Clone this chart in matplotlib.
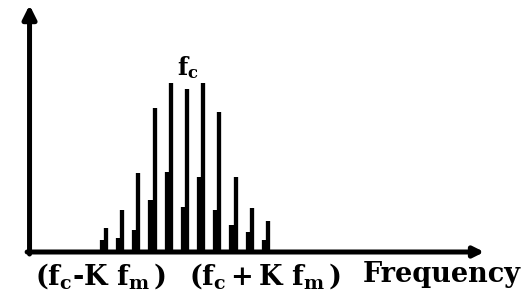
import matplotlib
matplotlib.use('Agg')
import matplotlib.pyplot as plt

plt.rcParams['mathtext.fontset'] = 'custom'
plt.rcParams['mathtext.rm'] = 'DejaVu Serif:bold'
plt.rcParams['mathtext.it'] = 'DejaVu Serif:bold'
plt.rcParams['mathtext.bf'] = 'DejaVu Serif:bold'

# sideband index (n * fm away from fc) and line amplitudes
harmonic = [-5, -4, -3, -2, -1, 0, 1, 2, 3, 4, 5]
main_amp = [24, 42, 79, 144, 169, 163, 169, 140, 75, 44, 31]
# shorter shoulder lines sitting just left of each main line
side_amp = [12, 14, 22, 52, 80, 45, 75, 42, 27, 20, 12]

label_left = r'(f$_c$-K f$_m\,$)'
label_right = r'(f$_c\,$+$\,$K f$_m\,$)'
label_axis = 'Frequency'
label_fc = 'f$_c$'

fig = plt.figure(figsize=(5.25, 2.93), dpi=100)
ax = fig.add_axes([0, 0, 1, 1])
ax.set_xlim(-187 / 16.2, (525 - 187) / 16.2)
ax.set_ylim(-41, 252)
ax.axis('off')

# spectral lines
side_x = [h - 0.2 for h in harmonic]
ax.vlines(side_x, 0, side_amp, color='black', lw=4.5)
ax.vlines(harmonic, 0, main_amp, color='black', lw=3.1)

# axes with arrows
x0 = -9.72
ax.annotate('', xy=(x0, 247), xytext=(x0, -2),
            arrowprops=dict(arrowstyle='-|>', lw=3.6, color='black',
                            mutation_scale=20, shrinkA=0, shrinkB=0))
ax.annotate('', xy=(18.35, 0), xytext=(x0 - 0.15, 0),
            arrowprops=dict(arrowstyle='-|>', lw=3.6, color='black',
                            mutation_scale=15, shrinkA=0, shrinkB=0))

font = dict(family='DejaVu Serif', weight='bold', size=19.5, color='black')
ax.text(-9.4, -9, label_left, ha='left', va='top', **font)
ax.text(0.15, -9, label_right, ha='left', va='top', **font)
ax.text(10.86, -9, label_axis, ha='left', va='top', **font)
ax.text(0.05, 171, label_fc, ha='center', va='bottom',
        family='DejaVu Serif', weight='bold', size=17, color='black')

fig.savefig('out.png', dpi=100)
